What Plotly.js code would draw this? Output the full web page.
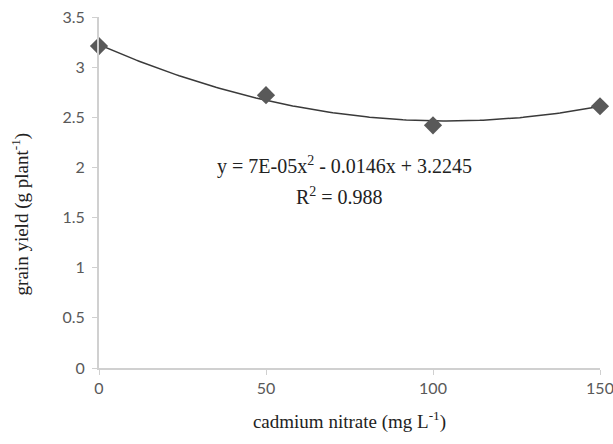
<!DOCTYPE html>
<html>
<head>
<meta charset="utf-8">
<script src="https://cdn.plot.ly/plotly-3.0.1.min.js"></script>
<style>html,body{margin:0;padding:0;background:#fff;}#chart{width:613px;height:444px;}</style>
</head>
<body>
<div id="chart"></div>
<script>
// Data
const cadmium = [0, 50, 100, 150];
const grainYield = [3.21, 2.72, 2.42, 2.61];
// Trendline coefficients as printed on the chart (c0, c1, c2)
const trendCoef = [3.2245, -0.0146, 0.00007];
const xTicks = [0, 50, 100, 150];
const yTicks = [0, 0.5, 1, 1.5, 2, 2.5, 3, 3.5];

// smooth trendline evaluated from printed coefficients
const tx = [], ty = [];
for (let i = 0; i <= 150; i++) {
  tx.push(i);
  ty.push(trendCoef[0] + trendCoef[1] * i + trendCoef[2] * i * i);
}

const traces = [
  {x: tx, y: ty, mode: 'lines', line: {color: '#3a3a3a', width: 1.5}, hoverinfo: 'skip', showlegend: false, cliponaxis: false},
  {x: cadmium, y: grainYield, mode: 'markers', marker: {symbol: 'diamond', size: 14, color: '#595959'}, showlegend: false, cliponaxis: false}
];

const tickFont = {family: 'Lato, "Open Sans", sans-serif', size: 16, color: '#595959'};
const titleFont = {family: '"Liberation Serif", "Times New Roman", serif', size: 19, color: '#222'};
const eqFont = {family: '"Liberation Serif", "Times New Roman", serif', size: 20, color: '#222'};

const layout = {
  width: 613, height: 444,
  margin: {l: 99, r: 13, t: 17, b: 76},
  paper_bgcolor: '#fff', plot_bgcolor: '#fff',
  showlegend: false,
  xaxis: {
    range: [0, 150], tickvals: xTicks, ticktext: xTicks.map(String),
    showgrid: false, zeroline: false, showline: true, linecolor: '#d0d0d0', linewidth: 2,
    ticks: 'outside', ticklen: 5, tickcolor: '#d0d0d0', tickwidth: 1,
    tickfont: tickFont, fixedrange: true, ticklabeloverflow: 'allow',
    title: {text: 'cadmium nitrate (mg L<sup>-1</sup>)', font: titleFont, standoff: 18}
  },
  yaxis: {
    range: [0, 3.5], tickvals: yTicks, ticktext: yTicks.map(String),
    showgrid: false, zeroline: false, showline: true, linecolor: '#d0d0d0', linewidth: 2,
    ticks: 'outside', ticklen: 5, tickcolor: '#d0d0d0', tickwidth: 1,
    tickfont: tickFont, fixedrange: true, ticklabelstandoff: 4
  },
  annotations: [
    {x: -0.156, y: 0.44, xref: 'paper', yref: 'paper', showarrow: false, textangle: -90,
     xanchor: 'center', yanchor: 'middle',
     text: 'grain yield (g plant<sup>-1</sup>)', font: titleFont},
    {x: 73.6, y: 2.02, xref: 'x', yref: 'y', showarrow: false,
     text: 'y = 7E-05x<sup>2</sup> - 0.0146x + 3.2245', font: eqFont},
    {x: 72, y: 1.72, xref: 'x', yref: 'y', showarrow: false,
     text: 'R<sup>2</sup> = 0.988', font: eqFont}
  ]
};

Plotly.newPlot('chart', traces, layout, {displayModeBar: false, staticPlot: true});
</script>
</body>
</html>
